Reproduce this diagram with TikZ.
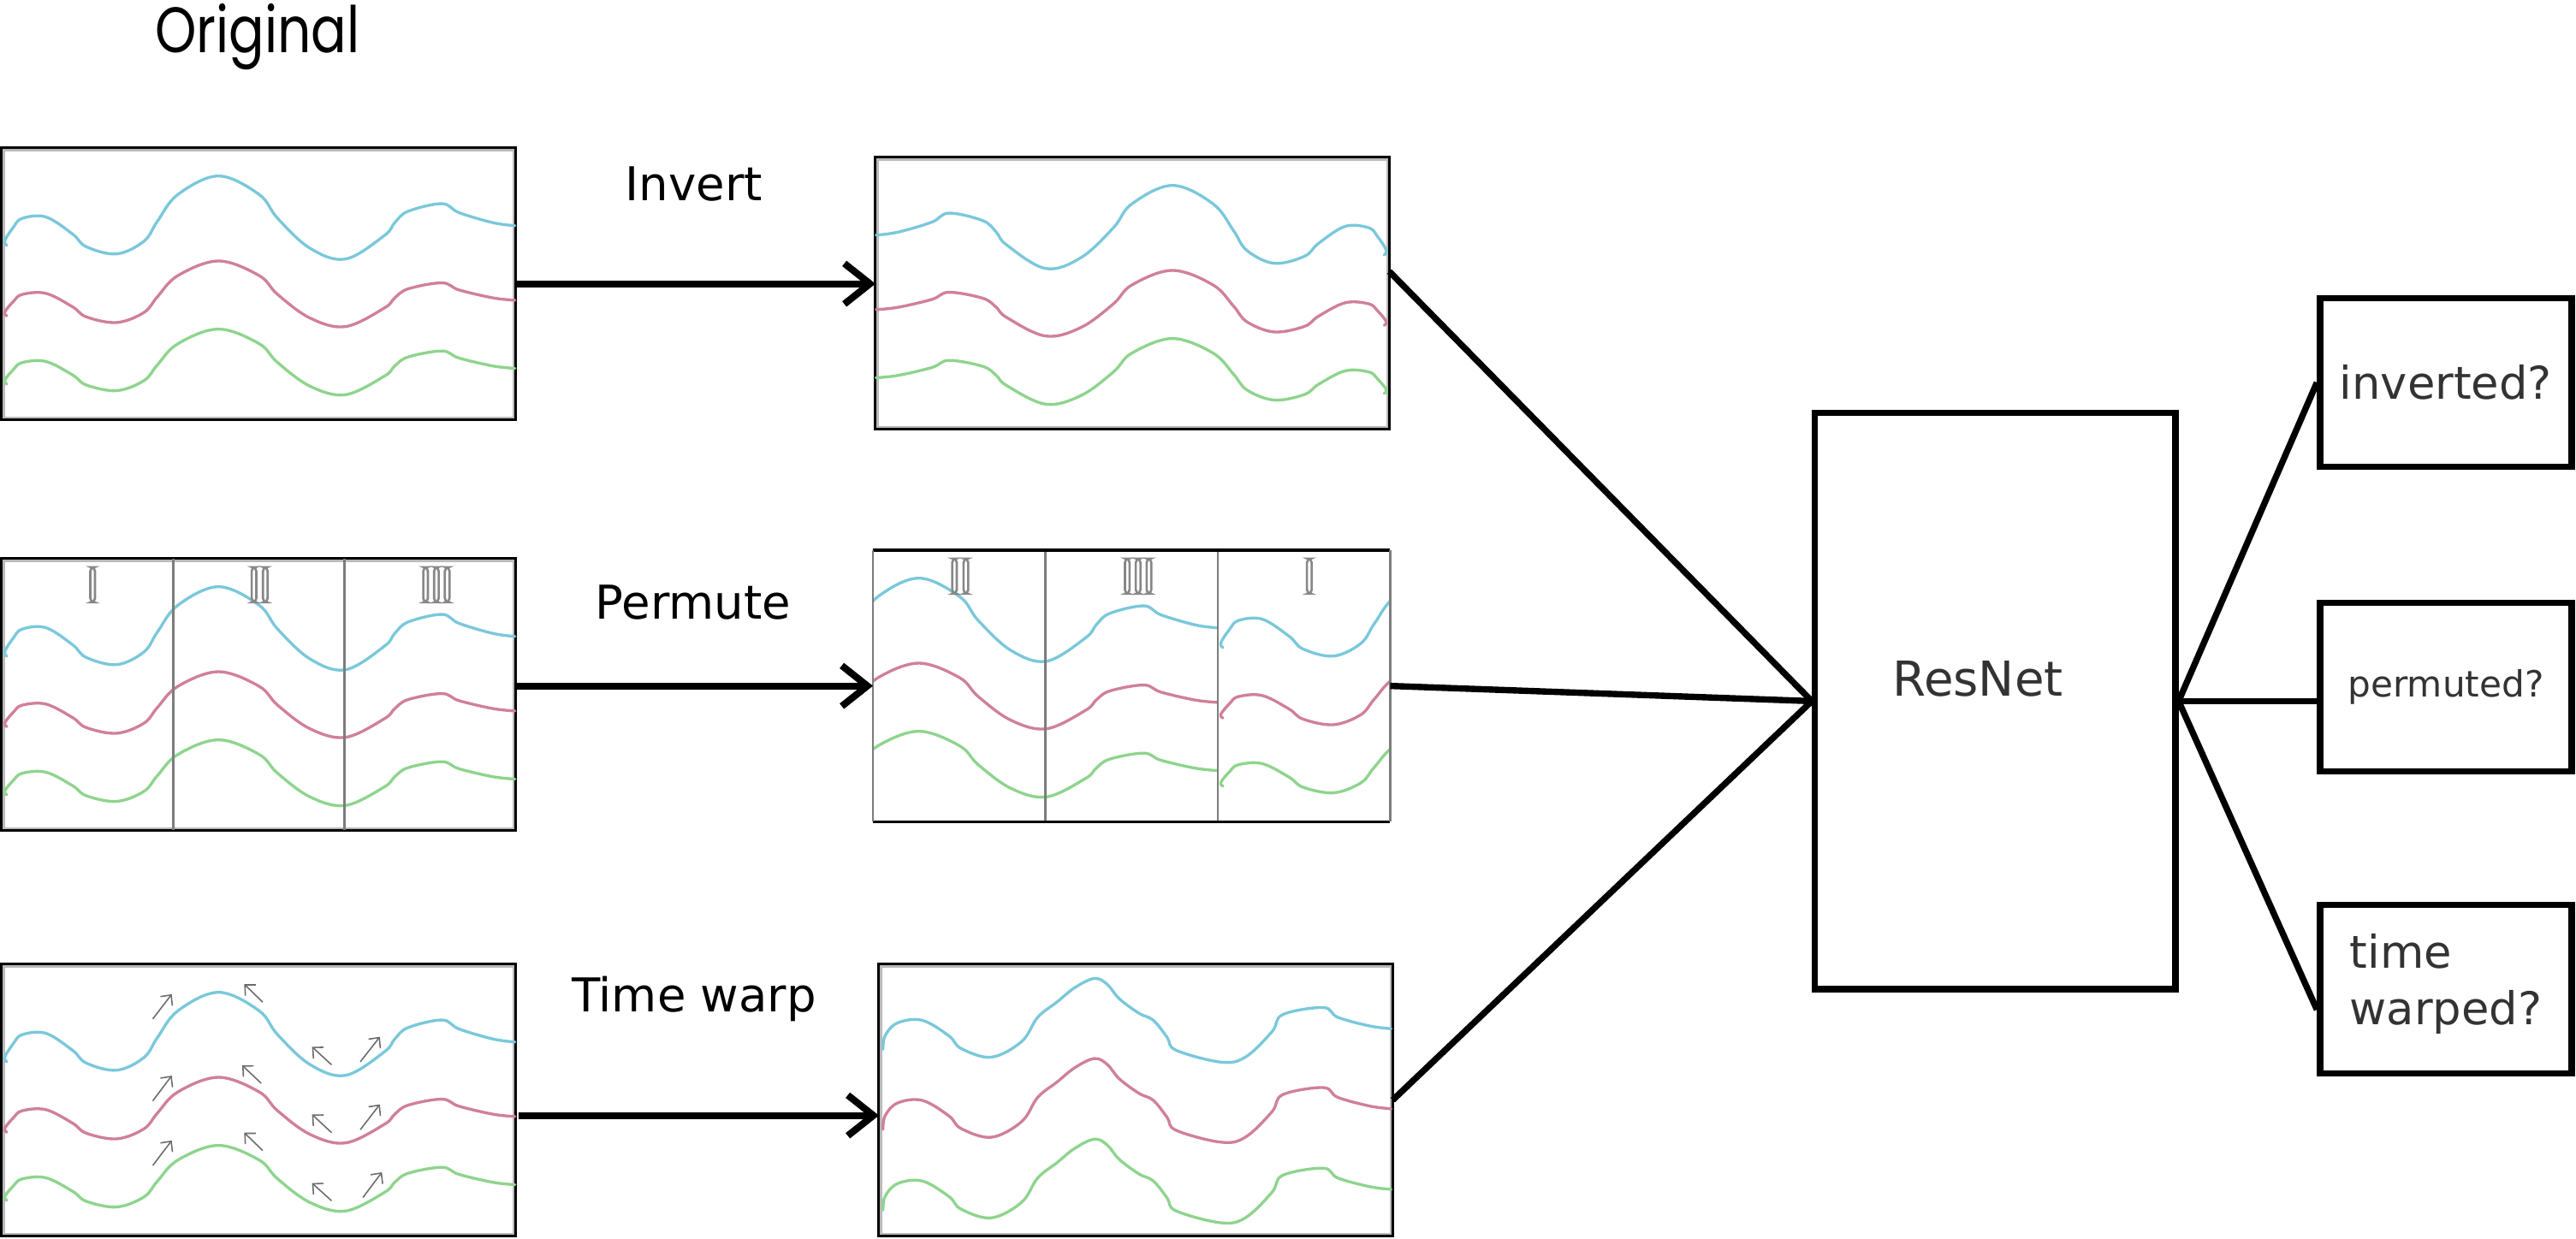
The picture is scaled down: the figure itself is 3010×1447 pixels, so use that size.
\documentclass[tikz,border=0pt]{standalone}
\usepackage{fontspec}
\usepackage{graphicx}
\setmainfont{DejaVu Sans}
\newfontfamily\geofont{Poppins}
\usetikzlibrary{arrows.meta,calc}
\definecolor{wcyan}{RGB}{122,200,218}
\definecolor{wpink}{RGB}{208,128,152}
\definecolor{wgreen}{RGB}{142,212,142}
\definecolor{txtgray}{RGB}{51,51,51}
\definecolor{divgray}{RGB}{125,125,125}
\definecolor{markgray}{RGB}{135,135,135}

\newcommand\owave[3]{\draw[wave,#1,shift={(0,#2)},yscale=#3] plot[smooth,tension=0.6] coordinates {(0.010,0.103) (0.006,0.085) (0.023,0.035) (0.040,0.003) (0.086,-0.002) (0.138,0.061) (0.165,0.108) (0.224,0.134) (0.277,0.087) (0.303,0.014) (0.343,-0.085) (0.422,-0.153) (0.501,-0.085) (0.537,0.003) (0.600,0.113) (0.669,0.153) (0.745,0.066) (0.765,0.019) (0.791,-0.023) (0.857,-0.051) (0.890,-0.018) (0.956,0.019) (0.999,0.030)};}
\newcommand\origwaves{\owave{wcyan}{0.256}{1}\owave{wpink}{0.537}{0.79}\owave{wgreen}{0.788}{0.79}}
\newcommand\twave[2]{\draw[wave,#1,shift={(0,#2)}] plot[smooth,tension=0.6] coordinates {(0.008,0.107) (0.012,0.057) (0.036,0.010) (0.084,0.000) (0.136,0.057) (0.160,0.104) (0.219,0.136) (0.278,0.078) (0.309,-0.011) (0.347,-0.068) (0.381,-0.120) (0.419,-0.154) (0.444,-0.133) (0.468,-0.079) (0.506,-0.026) (0.534,0.000) (0.561,0.063) (0.578,0.110) (0.665,0.154) (0.713,0.136) (0.765,0.042) (0.786,-0.021) (0.865,-0.047) (0.893,-0.011) (0.955,0.021) (0.997,0.031)};}
\newcommand\rbar[1]{\draw[rbarst] (#1-0.0045,0.031) rectangle (#1+0.0045,0.160);}
\newcommand\innerframe[1]{\draw[gray!55,line width=0.6pt] ($(#1.north west)+(2.5,2.5)$) rectangle ($(#1.south east)+(-2.5,-2.5)$);}

\begin{document}
\begin{tikzpicture}[x=0.01cm,y=-0.01cm,
  wave/.style={line width=0.95pt,line cap=round,line join=round},
  panel/.style={draw=black,line width=0.9pt,minimum width=6cm,minimum height=3.17cm,inner sep=0pt,outer sep=0pt,anchor=north west},
  panelnd/.style={minimum width=6.04cm,minimum height=3.17cm,inner sep=0pt,outer sep=0pt,anchor=north west},
  rbarst/.style={draw=markgray,line width=0.75pt,rounded corners=1.3pt},
  divider/.style={draw=divgray,line width=0.8pt},
  twarrow/.style={draw=gray!85!black,line width=0.45pt,-{Straight Barb[length=2.6pt,width=5pt]}},
  bigarrow/.style={line width=2.3pt,-{Straight Barb[length=8.5pt,width=13.5pt,line width=2.3pt]}},
  conn/.style={line width=2.1pt},
  outbox/.style={draw,line width=2.1pt,minimum width=2.94cm,minimum height=1.97cm,inner sep=0pt},
  lbl/.style={font=\fontsize{15.5}{18}\selectfont,text=black},
  rtxt/.style={text=txtgray,inner sep=0pt}]
\useasboundingbox (0,0) rectangle (3010,1447);

% title
\node[anchor=base,inner sep=0pt] (orig) at (301,61) {\scalebox{1}[1.22]{\geofont\fontsize{17.5}{20}\selectfont Original}};

% panels
\node[panel] (o1) at (2,173) {};
\node[panel] (inv) at (1023,184) {};
\node[panel] (o2) at (2,653) {};
\node[panelnd] (perm) at (1020,643) {};
\node[panel] (o3) at (2,1127) {};
\node[panel] (tw) at (1027,1127) {};
\innerframe{o1}\innerframe{inv}\innerframe{o2}\innerframe{o3}\innerframe{tw}

% original 1
\begin{scope}[shift={(o1.north west)},x=6cm,y=-3.17cm]
  \origwaves
\end{scope}
% inverted
\begin{scope}[shift={(inv.north west)},x=6cm,y=-3.17cm]
  \begin{scope}[shift={(1,0)},xscale=-1]
    \origwaves
  \end{scope}
\end{scope}
% original 2 (segments)
\begin{scope}[shift={(o2.north west)},x=6cm,y=-3.17cm]
  \origwaves
  \draw[divider] (1/3,0) -- (1/3,1);
  \draw[divider] (2/3,0) -- (2/3,1);
  \rbar{0.177}
  \rbar{0.491}\rbar{0.513}
  \rbar{0.825}\rbar{0.846}\rbar{0.867}
\end{scope}
% permuted
\begin{scope}[shift={(perm.north west)},x=6.04cm,y=-3.17cm]
  \begin{scope}[shift={(-1/3,0)}]
    \clip (1/3,-0.05) rectangle (1,1.05);
    \origwaves
    \rbar{0.491}\rbar{0.513}
    \rbar{0.825}\rbar{0.846}\rbar{0.867}
  \end{scope}
  \begin{scope}[shift={(2/3,0)}]
    \clip (0,-0.05) rectangle (1/3,1.05);
    \origwaves
    \rbar{0.177}
  \end{scope}
  \draw[divider] (1/3,0) -- (1/3,1);
  \draw[divider] (2/3,0) -- (2/3,1);
\end{scope}
\draw[black,line width=0.9pt] (perm.north west) -- (perm.north east);
\draw[black,line width=0.9pt] (perm.south west) -- (perm.south east);
\draw[divider] (perm.north west) -- (perm.south west);
\draw[divider] (perm.north east) -- (perm.south east);

% original 3 with warp arrows
\begin{scope}[shift={(o3.north west)},x=6cm,y=-3.17cm]
  \origwaves
  \draw[twarrow] (0.294,0.201) -- (0.331,0.110);
  \draw[twarrow] (0.508,0.139) -- (0.472,0.073);
  \draw[twarrow] (0.642,0.370) -- (0.604,0.304);
  \draw[twarrow] (0.698,0.359) -- (0.736,0.267);
  \draw[twarrow] (0.294,0.503) -- (0.331,0.410);
  \draw[twarrow] (0.505,0.438) -- (0.468,0.372);
  \draw[twarrow] (0.642,0.620) -- (0.604,0.553);
  \draw[twarrow] (0.698,0.609) -- (0.736,0.516);
  \draw[twarrow] (0.294,0.741) -- (0.331,0.649);
  \draw[twarrow] (0.508,0.686) -- (0.472,0.620);
  \draw[twarrow] (0.642,0.871) -- (0.604,0.806);
  \draw[twarrow] (0.703,0.859) -- (0.740,0.766);
\end{scope}
% time warped
\begin{scope}[shift={(tw.north west)},x=6cm,y=-3.17cm]
  \twave{wcyan}{0.206}
  \twave{wpink}{0.501}
  \twave{wgreen}{0.798}
\end{scope}

% transformation arrows and labels
\draw[bigarrow] (o1.east) -- (o1.east -| inv.west);
\draw[bigarrow] (perm.west -| o2.east) -- (perm.west);
\draw[bigarrow] ($(o3.east)+(4,18)$) -- ($(tw.west)+(0,18)$);
\node[lbl] (linv) at (811,215) {Invert};
\node[lbl] (lperm) at (810,704) {Permute};
\node[lbl] (ltw) at (811,1167) {Time warp};

% ResNet
\node[draw,line width=2.1pt,minimum width=4.21cm,minimum height=6.73cm,inner sep=0pt,anchor=north west] (res) at (2117,479) {};
\node[rtxt,font=\fontsize{16}{19}\selectfont] (restxt) at (2311,793) {ResNet};

\draw[conn] ($(inv.north east)!0.42!(inv.south east)$) -- (res.west);
\draw[conn] (perm.east) -- (res.west);
\draw[conn] (tw.east) -- (res.west);

% outputs
\node[outbox] (oinv) at (2858,447) {};
\node[outbox] (operm) at (2858,803) {};
\node[outbox] (otw) at (2858,1156) {};
\node[rtxt,anchor=west,font=\fontsize{15}{18}\selectfont] (tinv) at (2733,447) {inverted?};
\node[rtxt,font=\fontsize{12}{14}\selectfont] (tperm) at (2858,803) {permuted?};
\node[rtxt,anchor=west,align=left,font=\fontsize{15}{19}\selectfont] (ttw) at (2745,1150) {time\\warped?};

\draw[conn] (res.east) -- (oinv.west);
\draw[conn] (res.east) -- (res.east -| operm.west);
\draw[conn] (res.east) -- ($(otw.west)+(0,24)$);
\end{tikzpicture}
\end{document}
